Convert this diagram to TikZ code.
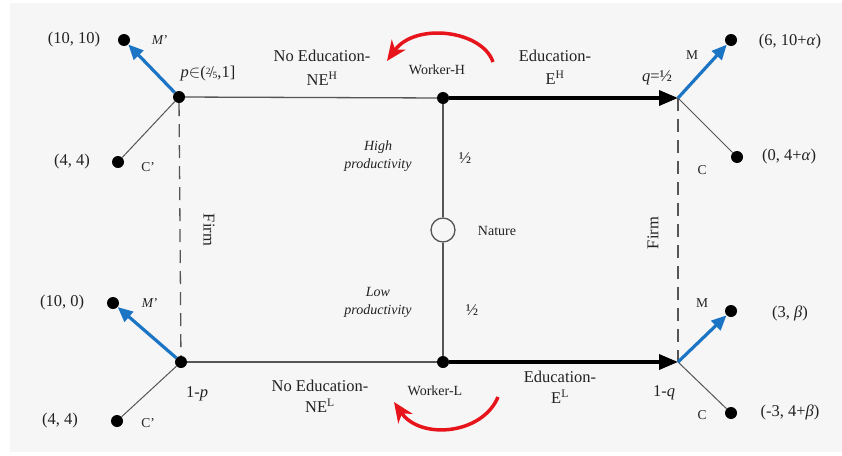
\documentclass[tikz,border=0pt]{standalone}
\usepackage{fontspec}
\setmainfont{Liberation Serif}
\usetikzlibrary{arrows.meta}
\definecolor{bg}{HTML}{F6F6F6}
\definecolor{ink}{HTML}{222222}
\definecolor{blu}{HTML}{1C75C4}
\definecolor{rd}{HTML}{E8141B}
\definecolor{ln}{HTML}{555555}
\begin{document}
\begin{tikzpicture}[x=1pt,y=-1pt,
  dot/.style={circle,fill=black,inner sep=0pt,minimum size=12pt},
  greyline/.style={draw=ln,line width=1.3pt},
  mainarr/.style={draw=black,line width=3.5pt,-{Triangle[length=19pt,width=15pt]}},
  bluearr/.style={draw=blu,line width=3.2pt,-{Triangle[length=15pt,width=13pt]}},
  redarr/.style={draw=rd,line width=3.5pt,-{Stealth[length=20pt,width=17pt,inset=6pt]}},
  dashline/.style={draw=ln,line width=1.3pt,dash pattern=on 13pt off 8pt},
  big/.style={font=\fontsize{16.5}{19}\selectfont,text=ink,inner sep=0pt},
  small/.style={font=\fontsize{14}{16}\selectfont,text=ink,inner sep=0pt},
  tiny/.style={font=\fontsize{13.5}{15}\selectfont,text=ink,inner sep=0pt},
  prod/.style={font=\fontsize{14}{18}\selectfont\itshape,text=ink,inner sep=0pt,align=center}
]
\useasboundingbox (0,0) rectangle (842,455);
\fill[white] (0,0) rectangle (842,455);
\fill[bg] (10,3) rectangle (842,452);

% main nodes
\node[dot] (tl) at (179,97) {};
\node[dot] (bl) at (181,362) {};
\node[dot] (wh) at (443,98) {};
\node[dot] (wl) at (443,362) {};
\node[circle,draw=ln,fill=bg,line width=1.3pt,minimum size=24pt,inner sep=0pt] (nat) at (443,230) {};
\coordinate (tr) at (678,98);
\coordinate (br) at (678,362);

% end dots
\node[dot] (tlM) at (124,40) {};
\node[dot] (tlC) at (118,162) {};
\node[dot] (blM) at (113,303) {};
\node[dot] (blC) at (117,421) {};
\node[dot] (trM) at (731,40) {};
\node[dot] (trC) at (737,157) {};
\node[dot] (brM) at (731,311) {};
\node[dot] (brC) at (731,413) {};

% dashed information sets
\draw[dashline] (tl) -- (bl);
\draw[dashline] (tr) -- (br);

% connectors
\draw[greyline] (tl) -- (wh);
\draw[greyline] (bl) -- (wl);
\draw[greyline] (wh) -- (nat) -- (wl);
\draw[mainarr] (wh) -- (tr);
\draw[mainarr] (wl) -- (br);
\draw[greyline,line width=1pt] (tl) -- (tlC);
\draw[greyline,line width=1pt] (bl) -- (blC);
\draw[greyline,line width=1pt] (tr) -- (trC);
\draw[greyline,line width=1pt] (br) -- (brC);
\draw[bluearr] (tl) -- (tlM);
\draw[bluearr] (bl) -- (blM);
\draw[bluearr] (tr) -- (trM);
\draw[bluearr] (br) -- (brM);

% red arrows
\coordinate (rts) at (493,62);
\coordinate (rte) at (387,61);
\coordinate (rbs) at (498,397);
\coordinate (rbe) at (394,402);
\draw[redarr] (rts) .. controls (482,30) and (415,22) .. (rte);
\draw[redarr] (rbs) .. controls (482,435) and (420,440) .. (rbe);

% labels top-left
\node[big] (l1) at (74,40) {(10, 10)};
\node[tiny] (l2) at (160,40) {\textit{M}'};
\node[big] (l3) at (208,74) {\textit{p}$\in$(\raisebox{0.5ex}{\fontsize{9.5}{9}\selectfont 2}\kern-0.08em/\kern-0.08em\raisebox{-0.1ex}{\fontsize{9.5}{9}\selectfont 5},1]};
\node[big] (l4) at (72,162) {(4, 4)};
\node[tiny] (l5) at (148,167) {C'};

% top middle
\node[big] (l6) at (322,56) {No Education-};
\node[big] (l7) at (322,79) {NE\textsuperscript{H}};
\node[small] (l8) at (437,70) {Worker-H};
\node[big] (l9) at (555,56) {Education-};
\node[big] (l10) at (555,78) {E\textsuperscript{H}};
\node[big] (l11) at (657,78) {\textit{q}=½};

% top right
\node[tiny] (l12) at (692,55) {M};
\node[big] (l13) at (790,42) {(6, 10+\textit{α})};
\node[tiny] (l14) at (702,170) {C};
\node[big] (l15) at (789,157) {(0, 4+\textit{α})};

% centre
\node[prod] (l16) at (378,156) {High\\productivity};
\node[big] (l17) at (465,158) {½};
\node[small] (l18) at (497,231) {Nature};
\node[prod] (l19) at (378,302) {Low\\productivity};
\node[big] (l20) at (472,310) {½};
\node[big,rotate=-90] (l21) at (209,230) {Firm};
\node[big,rotate=90] (l22) at (653,233) {Firm};

% bottom left
\node[big] (l23) at (62,303) {(10, 0)};
\node[tiny] (l24) at (150,303) {\textit{M}'};
\node[big] (l25) at (197,394) {1-\textit{p}};
\node[big] (l26) at (60,421) {(4, 4)};
\node[tiny] (l27) at (148,423) {C'};

% bottom middle
\node[big] (l28) at (320,386) {No Education-};
\node[big] (l29) at (320,406) {NE\textsuperscript{L}};
\node[small] (l30) at (435,391) {Worker-L};
\node[big] (l31) at (560,377) {Education-};
\node[big] (l32) at (560,397) {E\textsuperscript{L}};
\node[big] (l33) at (664,393) {1-\textit{q}};

% bottom right
\node[tiny] (l34) at (702,303) {M};
\node[big] (l35) at (790,313) {(3, \textit{β})};
\node[tiny] (l36) at (702,415) {C};
\node[big] (l37) at (790,412) {(-3, 4+\textit{β})};
\end{tikzpicture}
\end{document}
